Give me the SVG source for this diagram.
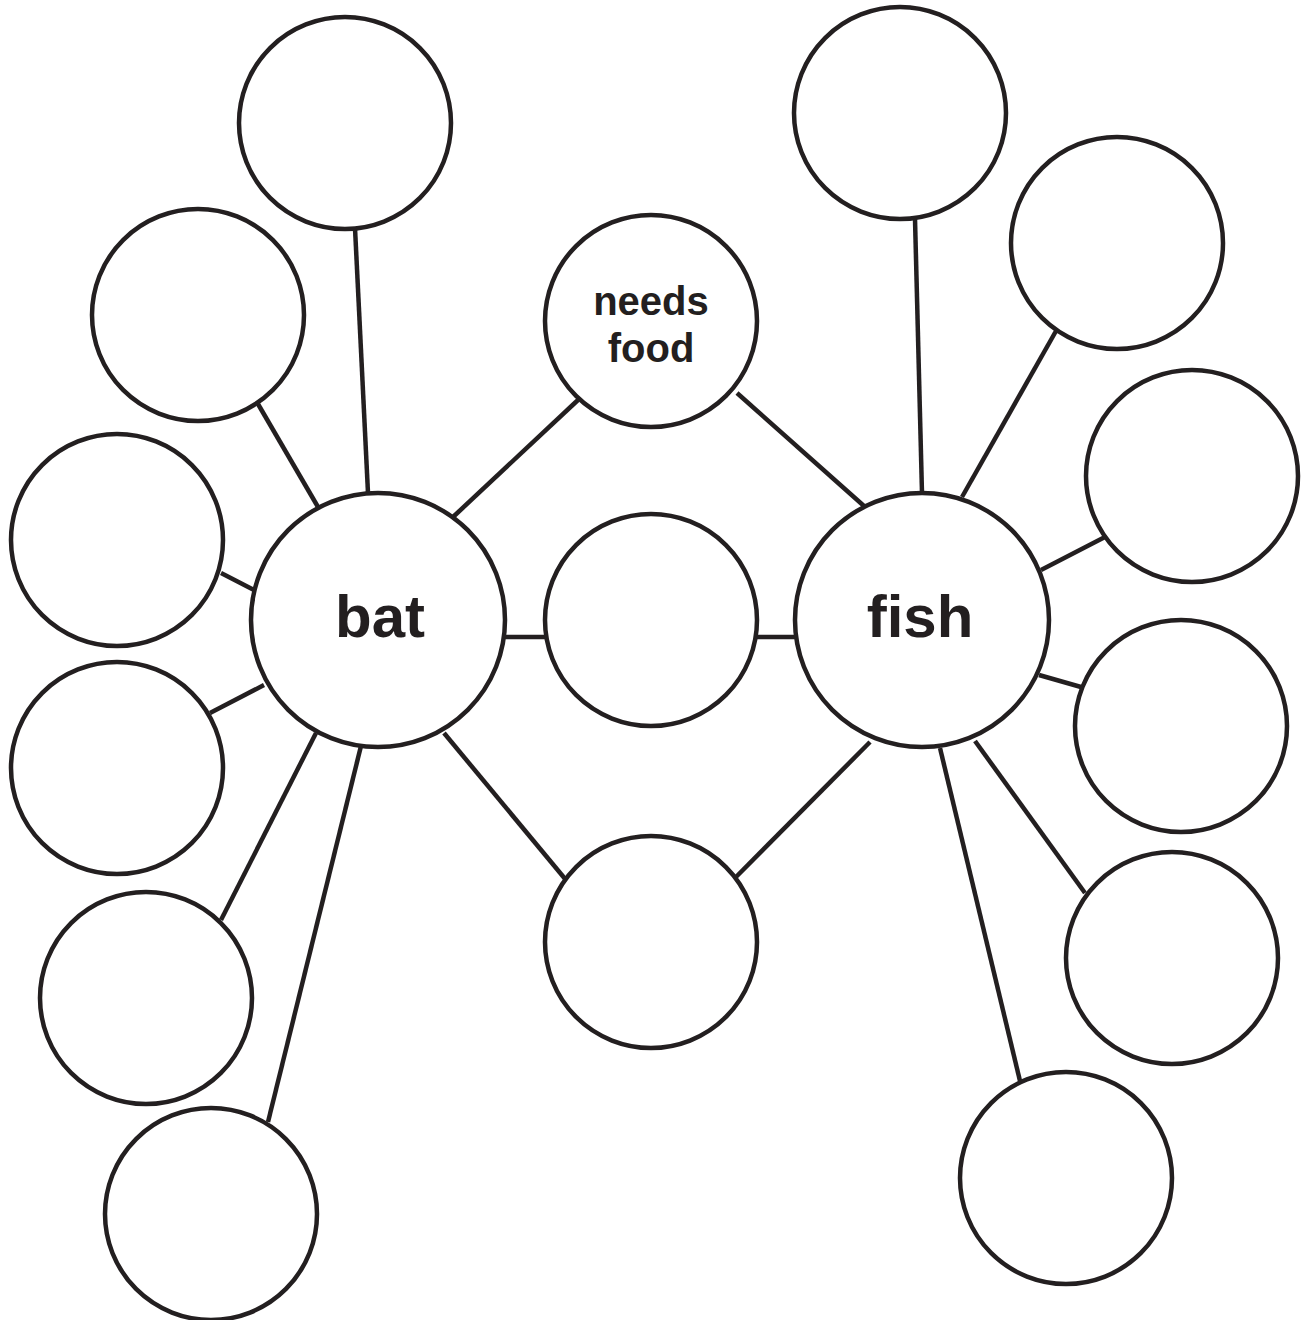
<svg xmlns="http://www.w3.org/2000/svg" width="1307" height="1320" viewBox="0 0 1307 1320">
<style>
.c{fill:#fff;stroke:#231f20;stroke-width:4.5}
.l{stroke:#231f20;stroke-width:4.5;fill:none}
.t{font-family:"Liberation Sans",Arial,sans-serif;font-weight:bold;fill:#231f20;text-anchor:middle}
</style>
<rect width="1307" height="1320" fill="#fff"/>
<g id="connectors" class="l">
<line x1="355" y1="228" x2="368" y2="493"/>
<line x1="258" y1="404" x2="318" y2="507"/>
<line x1="221" y1="573" x2="254" y2="590"/>
<line x1="210" y1="713" x2="264" y2="685"/>
<line x1="221" y1="920" x2="316" y2="733"/>
<line x1="268" y1="1122" x2="361" y2="746"/>
<line x1="453" y1="517" x2="578" y2="400"/>
<line x1="505" y1="637" x2="546" y2="637"/>
<line x1="444" y1="733" x2="566" y2="880"/>
<line x1="737" y1="393" x2="864" y2="506"/>
<line x1="757" y1="637" x2="796" y2="637"/>
<line x1="735" y1="878" x2="870" y2="742"/>
<line x1="915" y1="219" x2="922" y2="493"/>
<line x1="1056" y1="331" x2="962" y2="497"/>
<line x1="1105" y1="537" x2="1041" y2="570"/>
<line x1="1081" y1="687" x2="1039" y2="675"/>
<line x1="1085" y1="893" x2="975" y2="741"/>
<line x1="1020" y1="1081" x2="940" y2="748"/>
</g>
<g id="bat"><circle class="c" cx="378" cy="620" r="127"/><text class="t" x="380" y="637" font-size="60">bat</text></g>
<g id="fish"><circle class="c" cx="922" cy="620" r="127"/><text class="t" x="920" y="637" font-size="60">fish</text></g>
<g id="needs-food"><circle class="c" cx="651" cy="321" r="106"/><text class="t" x="651" y="315" font-size="40">needs</text><text class="t" x="651" y="362" font-size="40">food</text></g>
<g id="shared2"><circle class="c" cx="651" cy="620" r="106"/></g>
<g id="shared3"><circle class="c" cx="651" cy="942" r="106"/></g>
<g id="bat1"><circle class="c" cx="345" cy="123" r="106"/></g>
<g id="bat2"><circle class="c" cx="198" cy="315" r="106"/></g>
<g id="bat3"><circle class="c" cx="117" cy="540" r="106"/></g>
<g id="bat4"><circle class="c" cx="117" cy="768" r="106"/></g>
<g id="bat5"><circle class="c" cx="146" cy="998" r="106"/></g>
<g id="bat6"><circle class="c" cx="211" cy="1214" r="106"/></g>
<g id="fish1"><circle class="c" cx="900" cy="113" r="106"/></g>
<g id="fish2"><circle class="c" cx="1117" cy="243" r="106"/></g>
<g id="fish3"><circle class="c" cx="1192" cy="476" r="106"/></g>
<g id="fish4"><circle class="c" cx="1181" cy="726" r="106"/></g>
<g id="fish5"><circle class="c" cx="1172" cy="958" r="106"/></g>
<g id="fish6"><circle class="c" cx="1066" cy="1178" r="106"/></g>
</svg>
